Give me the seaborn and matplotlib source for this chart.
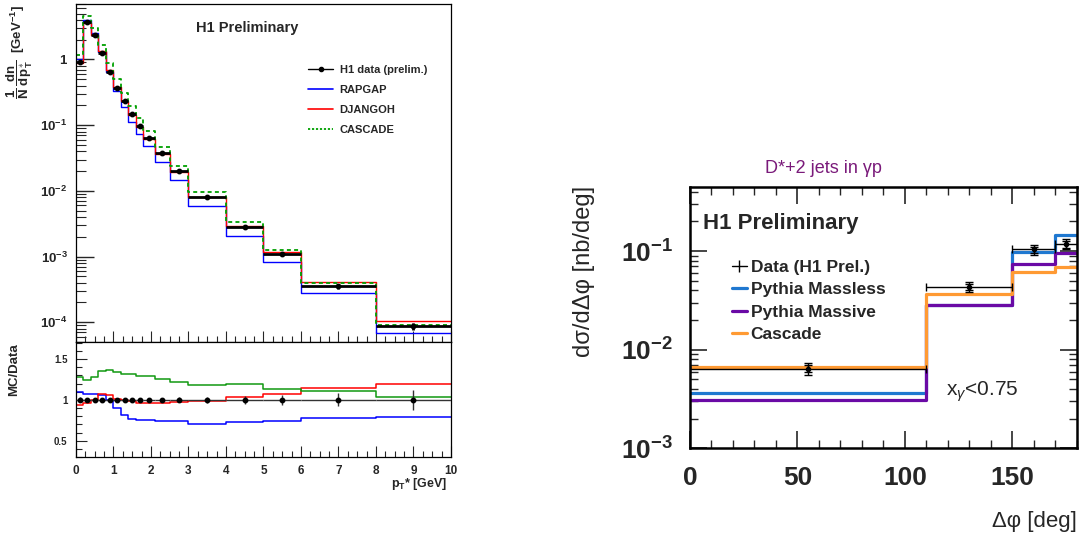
import numpy as np
import matplotlib
matplotlib.use("Agg")
import matplotlib.pyplot as plt
from matplotlib.ticker import (FixedLocator, MultipleLocator, LogLocator,
                               FuncFormatter, NullFormatter)
from matplotlib.lines import Line2D
import seaborn as sns

# ---------------- D* pT* spectrum (normalised) ----------------
pt_edges = np.array([0.0, 0.2, 0.4, 0.6, 0.8, 1.0, 1.2, 1.4, 1.6, 1.8,
                     2.1, 2.5, 3.0, 4.0, 5.0, 6.0, 8.0, 10.0])
pt_data = np.array([0.93, 3.69, 2.36, 1.235, 0.655, 0.373, 0.232, 0.147,
                    0.0985, 0.064, 0.0372, 0.0198, 0.00815, 0.00283,
                    0.00111, 0.000353, 8.8e-5])
pt_data_relerr = np.array([0.03, 0.02, 0.02, 0.02, 0.02, 0.02, 0.02, 0.02,
                           0.02, 0.025, 0.025, 0.03, 0.035, 0.045, 0.06,
                           0.08, 0.12])
pt_rapgap = np.array([1.023, 3.948, 2.525, 1.309, 0.655, 0.3357, 0.1879,
                      0.1132, 0.07447, 0.04838, 0.02753, 0.01465, 0.005787,
                      0.002066, 0.0008214, 0.0002753, 6.95e-5])
pt_djangoh = np.array([0.8742, 3.568, 2.36, 1.325, 0.6923, 0.3775, 0.232,
                       0.1446, 0.09525, 0.06176, 0.0359, 0.0194, 0.008069,
                       0.002943, 0.001188, 0.0004024, 1.047e-4])
pt_cascade = np.array([1.187, 4.576, 3.021, 1.667, 0.8974, 0.5017, 0.3055,
                       0.1936, 0.127, 0.0825, 0.04657, 0.02424, 0.009617,
                       0.003382, 0.001254, 0.0003901, 9.06e-5])

# ---------------- D* + 2 jets, delta phi ----------------
dphi_edges = np.array([0.0, 110.0, 150.0, 170.0, 180.0])
dphi_data = np.array([0.00642, 0.0435, 0.104, 0.118])
dphi_stat_rel = np.array([0.08, 0.07, 0.07, 0.08])
dphi_tot_rel = np.array([0.13, 0.11, 0.115, 0.12])
dphi_massless = np.array([0.00364, 0.0284, 0.097, 0.144])
dphi_massive = np.array([0.00307, 0.0284, 0.0738, 0.096])
dphi_cascade = np.array([0.00662, 0.0370, 0.0617, 0.0693])

sns.set_theme(style="ticks")
plt.rcParams["font.family"] = ["Liberation Sans", "DejaVu Sans"]
plt.rcParams["mathtext.fontset"] = "custom"
plt.rcParams["mathtext.rm"] = "Liberation Sans"
plt.rcParams["mathtext.it"] = "Liberation Sans:italic"
plt.rcParams["mathtext.bf"] = "Liberation Sans:bold"
plt.rcParams["mathtext.sf"] = "Liberation Sans"

C_RAP, C_DJA, C_CAS, C_CAS_R = "#0000ff", "#ff0000", "#00a000", "#119911"
C_MLESS, C_MSIVE, C_CASC = "#1f78d0", "#6a0aa5", "#ff9a33"


def hist_step(ax, edges, vals, **kw):
    y = np.append(vals, vals[-1])
    sns.lineplot(x=edges, y=y, drawstyle="steps-post", estimator=None,
                 sort=False, ax=ax, legend=False, **kw)


def log_label(v, pos):
    if v <= 0:
        return ""
    e = int(round(np.log10(v)))
    if e == 0:
        return r"$\mathbf{1}$"
    return r"$\mathbf{10^{%d}}$" % e


fig = plt.figure(figsize=(10.82, 5.43), dpi=100)

# ---------- upper left: spectrum ----------
ax1 = fig.add_axes([0.0702, 0.3702, 0.3466, 0.6225])
ax2 = fig.add_axes([0.0702, 0.1584, 0.3466, 0.2118], sharex=ax1)

ax1.set_yscale("log")
hist_step(ax1, pt_edges, pt_rapgap, color=C_RAP, lw=1.0)
hist_step(ax1, pt_edges, pt_djangoh, color=C_DJA, lw=1.0)
hist_step(ax1, pt_edges, pt_cascade, color=C_CAS, lw=1.3,
          linestyle=(0, (2.2, 1.8)))
pt_centers = 0.5 * (pt_edges[1:] + pt_edges[:-1])
pt_halfw = 0.5 * np.diff(pt_edges)
ax1.errorbar(pt_centers, pt_data, xerr=pt_halfw, yerr=pt_data * pt_data_relerr,
             fmt="o", color="black", ms=3.2, elinewidth=2.0, capsize=0,
             zorder=5)
ax1.set_xlim(0, 10)
ax1.set_ylim(5e-5, 7)
ax1.yaxis.set_major_locator(LogLocator(base=10, numticks=12))
ax1.yaxis.set_minor_locator(LogLocator(base=10, subs=np.arange(2, 10), numticks=12))
ax1.yaxis.set_major_formatter(FuncFormatter(log_label))
ax1.yaxis.set_minor_formatter(NullFormatter())
ax1.tick_params(axis="y", which="major", direction="in", length=13, width=1,
                labelsize=9.5, pad=6)
ax1.tick_params(axis="y", which="minor", direction="in", length=7, width=0.8)
ax1.tick_params(axis="x", which="major", direction="in", length=8, width=0.8,
                labelbottom=False)
ax1.tick_params(axis="x", which="minor", direction="in", length=4, width=0.8)
ax1.set_xlabel("")
ax1.set_ylabel("")
ax1.text(0.456, 0.929, "H1 Preliminary", transform=ax1.transAxes,
         ha="center", va="center", fontsize=10.5, fontweight="bold")

leg_handles = [
    Line2D([], [], color="black", lw=1.0, marker="o", ms=3),
    Line2D([], [], color=C_RAP, lw=1.2),
    Line2D([], [], color=C_DJA, lw=1.2),
    Line2D([], [], color=C_CAS, lw=1.3, linestyle=(0, (1.2, 1.0))),
]
ax1.legend(leg_handles, ["H1 data (prelim.)", "RAPGAP", "DJANGOH", "CASCADE"],
           loc="upper left", bbox_to_anchor=(0.605, 0.835), frameon=False,
           prop={"weight": "bold", "size": 8}, handlelength=2.2,
           handletextpad=0.6, labelspacing=0.9, borderpad=0)

# ---------- lower left: MC/Data ----------
for model, col in ((pt_rapgap, C_RAP), (pt_djangoh, C_DJA), (pt_cascade, C_CAS_R)):
    hist_step(ax2, pt_edges, model / pt_data, color=col, lw=1.1)
ax2.errorbar(pt_centers, np.ones_like(pt_data), xerr=pt_halfw,
             yerr=pt_data_relerr, fmt="o", color="black", ms=3.2,
             elinewidth=1.0, ecolor="#333333", capsize=0, zorder=5)
ax2.set_ylim(0.3, 1.71)
ax2.set_xlim(0, 10)
ax2.xaxis.set_major_locator(MultipleLocator(1))
ax2.xaxis.set_minor_locator(MultipleLocator(0.25))
ax2.yaxis.set_major_locator(FixedLocator([0.5, 1.0, 1.5]))
ax2.yaxis.set_minor_locator(MultipleLocator(0.1))
ax2.yaxis.set_major_formatter(FuncFormatter(lambda v, p: f"{v:g}"))
ax2.tick_params(axis="both", which="major", direction="in", length=8, width=0.8)
ax2.tick_params(axis="both", which="minor", direction="in", length=4, width=0.8)
ax2.tick_params(axis="x", labelsize=8.5, pad=6)
ax2.tick_params(axis="y", labelsize=7, pad=6)
for lab in ax2.get_xticklabels() + ax2.get_yticklabels():
    lab.set_fontweight("bold")
ax2.set_xlabel("")
ax2.set_ylabel("")

for ax in (ax1, ax2):
    for sp in ax.spines.values():
        sp.set_linewidth(0.9)
        sp.set_color("black")

fig.text(0.0185, 0.990,
         r"$\mathbf{\dfrac{1}{N}\,\dfrac{dn}{d\,p_{T}^{\ast}}}$  [GeV$^{\mathbf{-1}}$]",
         rotation=90, ha="center", va="top", fontsize=9.5, fontweight="bold")
fig.text(0.0135, 0.368, "MC/Data", rotation=90, ha="center", va="top",
         fontsize=9.5, fontweight="bold")
fig.text(0.414, 0.108, r"p$_{\mathbf{T}}$* [GeV]", ha="right", va="center",
         fontsize=9, fontweight="bold")

# ---------- right: delta phi ----------
ax3 = fig.add_axes([0.6377, 0.1744, 0.3574, 0.4818])
ax3.set_yscale("log")
hist_step(ax3, dphi_edges, dphi_massless, color=C_MLESS, lw=2.3)
hist_step(ax3, dphi_edges, dphi_massive, color=C_MSIVE, lw=2.3)
hist_step(ax3, dphi_edges, dphi_cascade, color=C_CASC, lw=2.3)
dphi_centers = 0.5 * (dphi_edges[1:] + dphi_edges[:-1])
dphi_halfw = 0.5 * np.diff(dphi_edges)
ax3.errorbar(dphi_centers, dphi_data, xerr=dphi_halfw,
             yerr=dphi_data * dphi_tot_rel, fmt="o", color="black", ms=3,
             elinewidth=1.0, capsize=3, capthick=1.0, zorder=6)
ax3.errorbar(dphi_centers, dphi_data, yerr=dphi_data * dphi_stat_rel,
             fmt="none", ecolor="black", elinewidth=1.0, capsize=3,
             capthick=1.0, zorder=6)
ax3.set_xlim(0, 180)
ax3.set_ylim(1e-3, 0.45)
ax3.xaxis.set_major_locator(FixedLocator([0, 50, 100, 150]))
ax3.xaxis.set_minor_locator(MultipleLocator(10))
ax3.yaxis.set_major_locator(LogLocator(base=10, numticks=10))
ax3.yaxis.set_minor_locator(LogLocator(base=10, subs=np.arange(2, 10), numticks=10))
ax3.yaxis.set_major_formatter(FuncFormatter(log_label))
ax3.yaxis.set_minor_formatter(NullFormatter())
ax3.xaxis.set_major_formatter(FuncFormatter(lambda v, p: f"{v:.0f}"))
ax3.tick_params(axis="both", which="major", direction="in", length=12,
                width=1.2, top=True, right=True, labelsize=19)
ax3.tick_params(axis="both", which="minor", direction="in", length=6,
                width=1.0, top=True, right=True)
ax3.tick_params(axis="x", pad=13)
ax3.tick_params(axis="y", pad=12)
for lab in ax3.get_xticklabels():
    lab.set_fontweight("bold")
ax3.set_xlabel("")
ax3.set_ylabel("")
for sp in ax3.spines.values():
    sp.set_linewidth(1.8)
    sp.set_color("black")

ax3.text(0.034, 0.861, "H1 Preliminary", transform=ax3.transAxes,
         ha="left", va="center", fontsize=16, fontweight="bold")
ax3.text(0.755, 0.215, r"x$_{\gamma}$<0.75", transform=ax3.transAxes,
         ha="center", va="center", fontsize=15)

leg3_handles = [
    Line2D([], [], color="black", lw=1.0, marker="|", ms=9, mew=1.0),
    Line2D([], [], color=C_MLESS, lw=2.3),
    Line2D([], [], color=C_MSIVE, lw=2.3),
    Line2D([], [], color=C_CASC, lw=2.3),
]
ax3.legend(leg3_handles, ["Data (H1 Prel.)", "Pythia Massless",
                          "Pythia Massive", "Cascade"],
           loc="upper left", bbox_to_anchor=(0.085, 0.752), frameon=False,
           prop={"weight": "bold", "size": 12.5}, handlelength=0.9,
           handletextpad=0.2, labelspacing=0.4, borderpad=0)

fig.text(0.7606, 0.6906, "D*+2 jets in \u03b3p", ha="center", va="center",
         fontsize=13, color="#7a1a7a")
fig.text(0.540, 0.6575, "d\u03c3/d\u0394\u03c6 [nb/deg]", rotation=90,
         ha="center", va="top", fontsize=17)
fig.text(0.9954, 0.0387, "\u0394\u03c6 [deg]", ha="right", va="center",
         fontsize=16)

fig.savefig("out.png", dpi=100)
